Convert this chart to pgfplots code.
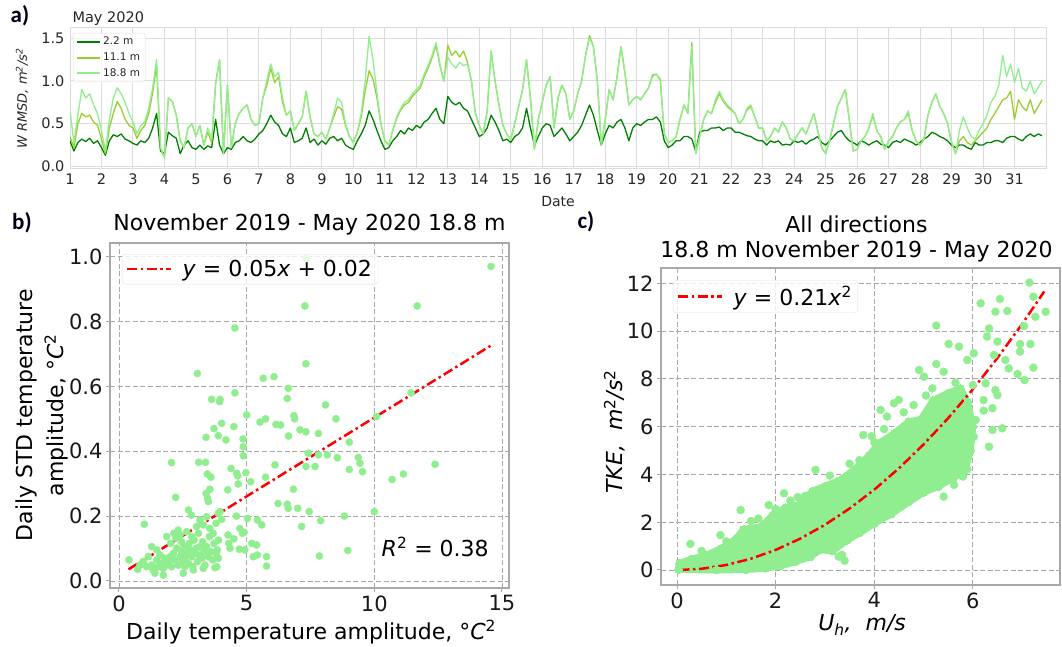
\documentclass[border=0pt]{standalone}
\usepackage{fontspec}
\setmainfont{DejaVu Sans}
\newfontfamily\labfont{Carlito}
\usepackage{pgfplots}
\pgfplotsset{compat=1.18}
\usepackage{pgfplotstable}

\definecolor{cg}{HTML}{008000}
\definecolor{cyg}{HTML}{9ACD32}
\definecolor{clg}{HTML}{90EE90}
\definecolor{gridA}{HTML}{DCDCDC}
\definecolor{frameB}{HTML}{A8A8A8}
\definecolor{gridB}{HTML}{A8A8A8}
\newcommand{\fs}[2]{\fontsize{#1}{#2}\selectfont}

\pgfplotstableread{
t a b c
1.000 0.30 0.35 0.65
1.125 0.18 0.22 0.28
1.250 0.28 0.50 0.60
1.375 0.32 0.62 0.90
1.500 0.29 0.58 0.80
1.625 0.33 0.60 0.85
1.750 0.27 0.52 0.72
1.875 0.30 0.48 0.62
2.000 0.22 0.32 0.42
2.125 0.13 0.15 0.18
2.250 0.30 0.45 0.55
2.375 0.37 0.62 0.80
2.500 0.35 0.76 0.92
2.625 0.38 0.68 0.85
2.750 0.32 0.55 0.75
2.875 0.30 0.48 0.62
3.000 0.27 0.45 0.52
3.125 0.25 0.33 0.38
3.250 0.30 0.42 0.48
3.375 0.28 0.48 0.52
3.500 0.33 0.62 0.68
3.625 0.45 0.86 0.92
3.750 0.62 1.18 1.25
3.875 0.18 0.22 0.22
4.000 0.15 0.10 0.10
4.125 0.40 0.80 0.80
4.250 0.36 0.76 0.76
4.375 0.33 0.60 0.60
4.500 0.15 0.30 0.30
4.625 0.25 0.22 0.22
4.750 0.30 0.45 0.45
4.875 0.22 0.50 0.50
5.000 0.20 0.35 0.35
5.125 0.25 0.48 0.48
5.250 0.20 0.25 0.25
5.375 0.24 0.40 0.45
5.500 0.22 0.28 0.32
5.625 0.55 0.97 0.97
5.750 0.25 1.25 1.25
5.875 0.15 0.15 0.15
6.000 0.22 0.95 0.95
6.125 0.20 0.22 0.22
6.250 0.28 0.50 0.50
6.375 0.30 0.62 0.62
6.500 0.35 0.68 0.68
6.625 0.30 0.72 0.72
6.750 0.28 0.55 0.55
6.875 0.32 0.48 0.48
7.000 0.38 0.50 0.50
7.125 0.42 0.80 0.80
7.250 0.50 0.95 1.00
7.375 0.60 1.15 1.20
7.500 0.52 0.98 1.05
7.625 0.48 1.05 1.10
7.750 0.38 0.75 0.80
7.875 0.35 0.60 0.60
8.000 0.45 0.65 0.65
8.125 0.28 0.42 0.42
8.250 0.30 0.50 0.50
8.375 0.33 0.58 0.58
8.500 0.45 0.88 0.88
8.625 0.28 0.58 0.58
8.750 0.32 0.38 0.38
8.875 0.25 0.35 0.35
9.000 0.30 0.40 0.40
9.125 0.26 0.32 0.32
9.250 0.33 0.45 0.45
9.375 0.35 0.58 0.62
9.500 0.30 0.70 0.80
9.625 0.33 0.67 0.75
9.750 0.25 0.48 0.50
9.875 0.22 0.35 0.35
10.000 0.20 0.28 0.28
10.125 0.30 0.40 0.40
10.250 0.38 0.58 0.62
10.375 0.48 0.88 1.00
10.500 0.65 1.12 1.52
10.625 0.55 1.02 1.25
10.750 0.42 0.80 0.85
10.875 0.30 0.50 0.50
11.000 0.20 0.30 0.30
11.125 0.22 0.25 0.25
11.250 0.30 0.42 0.42
11.375 0.35 0.56 0.58
11.500 0.42 0.66 0.68
11.625 0.38 0.72 0.75
11.750 0.45 0.75 0.78
11.875 0.42 0.82 0.85
12.000 0.48 0.87 0.90
12.125 0.45 0.92 0.95
12.250 0.52 1.05 1.08
12.375 0.55 1.15 1.18
12.500 0.62 1.27 1.30
12.625 0.68 1.42 1.45
12.750 0.55 1.18 1.20
12.875 0.50 1.00 1.00
13.000 0.82 1.42 1.28
13.125 0.75 1.30 1.20
13.250 0.72 1.35 1.15
13.375 0.75 1.28 1.22
13.500 0.68 1.35 1.18
13.625 0.65 1.22 1.20
13.750 0.55 1.00 1.00
13.875 0.45 0.62 0.62
14.000 0.35 0.48 0.48
14.125 0.38 0.38 0.38
14.250 0.45 0.65 0.65
14.375 0.60 1.35 1.35
14.500 0.52 1.00 1.00
14.625 0.42 0.72 0.72
14.750 0.30 0.48 0.48
14.875 0.32 0.38 0.38
15.000 0.28 0.32 0.32
15.125 0.35 0.50 0.50
15.250 0.38 0.70 0.70
15.375 0.45 0.90 0.90
15.500 0.68 1.25 1.25
15.625 0.45 0.80 0.80
15.750 0.25 0.20 0.20
15.875 0.35 0.55 0.55
16.000 0.45 0.75 0.75
16.125 0.50 0.95 0.95
16.250 0.48 1.05 1.05
16.375 0.35 0.45 0.45
16.500 0.40 0.80 0.80
16.625 0.45 0.95 0.95
16.750 0.38 0.85 0.85
16.875 0.30 0.55 0.55
17.000 0.35 0.65 0.65
17.125 0.40 0.85 0.85
17.250 0.48 1.00 1.00
17.375 0.60 1.30 1.30
17.500 0.72 1.53 1.50
17.625 0.60 1.40 1.40
17.750 0.42 1.00 1.00
17.875 0.25 0.25 0.25
18.000 0.38 0.55 0.55
18.125 0.48 0.90 0.90
18.250 0.45 0.78 0.78
18.375 0.52 1.05 1.05
18.500 0.55 1.40 1.40
18.625 0.45 1.10 1.10
18.750 0.30 0.72 0.72
18.875 0.45 0.78 0.78
19.000 0.50 0.82 0.82
19.125 0.48 0.78 0.78
19.250 0.52 0.85 0.85
19.375 0.55 0.92 0.92
19.500 0.55 1.07 1.05
19.625 0.58 1.08 1.08
19.750 0.52 1.02 1.00
19.875 0.30 0.38 0.38
20.000 0.22 0.28 0.28
20.125 0.25 0.30 0.30
20.250 0.30 0.35 0.35
20.375 0.30 0.55 0.55
20.500 0.35 0.72 0.72
20.625 0.35 0.62 0.62
20.750 0.32 1.45 1.40
20.875 0.18 0.15 0.15
21.000 0.40 0.35 0.35
21.125 0.42 0.55 0.55
21.250 0.42 0.65 0.65
21.375 0.45 0.62 0.62
21.500 0.45 0.75 0.78
21.625 0.46 0.85 0.88
21.750 0.42 0.76 0.78
21.875 0.45 0.70 0.72
22.000 0.45 0.66 0.68
22.125 0.40 0.62 0.62
22.250 0.40 0.50 0.50
22.375 0.38 0.55 0.55
22.500 0.36 0.66 0.68
22.625 0.35 0.70 0.72
22.750 0.32 0.58 0.58
22.875 0.30 0.45 0.45
23.000 0.30 0.45 0.45
23.125 0.25 0.30 0.30
23.250 0.30 0.35 0.35
23.375 0.28 0.45 0.45
23.500 0.30 0.40 0.40
23.625 0.25 0.52 0.52
23.750 0.26 0.45 0.45
23.875 0.25 0.32 0.32
24.000 0.30 0.30 0.30
24.125 0.28 0.38 0.38
24.250 0.30 0.45 0.45
24.375 0.26 0.38 0.38
24.500 0.30 0.50 0.50
24.625 0.32 0.62 0.62
24.750 0.35 0.42 0.42
24.875 0.28 0.22 0.22
25.000 0.25 0.15 0.15
25.125 0.30 0.30 0.30
25.250 0.35 0.50 0.50
25.375 0.40 0.70 0.70
25.500 0.42 0.80 0.80
25.625 0.35 0.90 0.90
25.750 0.30 0.55 0.55
25.875 0.28 0.18 0.18
26.000 0.25 0.20 0.20
26.125 0.30 0.30 0.30
26.250 0.28 0.35 0.35
26.375 0.25 0.45 0.45
26.500 0.28 0.60 0.62
26.625 0.30 0.42 0.42
26.750 0.26 0.35 0.35
26.875 0.25 0.20 0.20
27.000 0.22 0.30 0.30
27.125 0.28 0.35 0.35
27.250 0.30 0.45 0.45
27.375 0.28 0.52 0.52
27.500 0.32 0.55 0.55
27.625 0.30 0.62 0.65
27.750 0.28 0.42 0.42
27.875 0.25 0.30 0.30
28.000 0.28 0.25 0.25
28.125 0.32 0.32 0.32
28.250 0.35 0.60 0.60
28.375 0.40 0.75 0.75
28.500 0.38 0.85 0.85
28.625 0.35 0.70 0.70
28.750 0.33 0.62 0.62
28.875 0.30 0.50 0.50
29.000 0.25 0.28 0.28
29.125 0.22 0.15 0.15
29.250 0.25 0.30 0.42
29.375 0.25 0.35 0.58
29.500 0.22 0.28 0.45
29.625 0.20 0.25 0.35
29.750 0.28 0.30 0.32
29.875 0.25 0.35 0.42
30.000 0.25 0.40 0.50
30.125 0.28 0.45 0.60
30.250 0.28 0.55 0.75
30.375 0.30 0.62 0.82
30.500 0.30 0.70 0.95
30.625 0.28 0.78 1.30
30.750 0.33 0.80 1.05
30.875 0.35 0.88 1.20
31.000 0.35 0.55 0.98
31.125 0.32 0.78 1.15
31.250 0.30 0.70 0.92
31.375 0.35 0.65 0.88
31.500 0.38 0.78 1.00
31.625 0.35 0.62 0.85
31.750 0.38 0.70 0.92
31.875 0.36 0.78 1.00
}\tblA

\pgfplotstableread{
x y
14.57 0.97
7.32 0.995
7.28 0.848
11.68 0.848
4.54 0.78
7.32 0.67
3.07 0.64
5.65 0.625
6.07 0.63
11.44 0.58
4.54 0.58
3.63 0.56
3.96 0.56
3.94 0.553
6.59 0.563
6.63 0.594
8.09 0.543
5.00 0.512
10.09 0.507
6.85 0.51
6.88 0.50
8.50 0.50
5.74 0.50
5.52 0.49
6.15 0.483
6.33 0.481
4.02 0.486
3.72 0.47
4.50 0.476
7.09 0.466
7.32 0.46
7.81 0.455
6.64 0.447
3.89 0.448
3.41 0.443
4.19 0.435
4.86 0.438
4.87 0.414
9.02 0.428
4.87 0.386
7.41 0.394
7.81 0.389
8.16 0.389
8.55 0.38
9.37 0.381
9.44 0.363
3.12 0.366
3.39 0.366
2.06 0.365
6.11 0.358
12.38 0.36
7.32 0.353
7.68 0.353
4.39 0.347
9.02 0.344
9.54 0.337
11.14 0.33
3.46 0.33
3.60 0.32
4.61 0.332
4.65 0.324
4.97 0.334
5.16 0.306
5.74 0.32
4.67 0.299
10.70 0.313
6.83 0.283
4.26 0.281
3.56 0.283
3.41 0.27
2.22 0.258
3.47 0.255
3.50 0.245
6.23 0.239
6.59 0.237
6.63 0.224
7.00 0.224
7.45 0.214
10.00 0.214
2.72 0.219
2.84 0.203
3.96 0.214
4.02 0.19
5.03 0.193
5.42 0.188
7.90 0.186
8.83 0.20
5.59 0.173
7.15 0.168
0.99 0.175
4.73 0.162
4.84 0.147
3.90 0.126
4.27 0.142
4.30 0.116
4.35 0.101
4.71 0.098
4.93 0.096
5.20 0.116
5.39 0.111
5.26 0.075
5.42 0.08
5.78 0.075
5.78 0.046
7.85 0.077
8.96 0.094
0.39 0.065
0.73 0.036
3.76 0.041
0.95 0.060
1.15 0.075
1.28 0.049
1.34 0.034
1.48 0.065
1.54 0.044
1.61 0.080
1.67 0.054
1.74 0.039
1.80 0.070
1.87 0.049
1.93 0.060
2.00 0.075
2.06 0.044
2.13 0.085
2.19 0.065
2.26 0.101
2.32 0.049
2.39 0.075
2.45 0.090
2.49 0.060
2.55 0.106
2.58 0.070
2.65 0.085
2.72 0.054
2.75 0.116
2.78 0.096
2.85 0.075
2.89 0.044
2.94 0.126
2.98 0.085
3.02 0.101
3.07 0.060
3.11 0.147
3.15 0.080
3.17 0.106
3.24 0.070
3.28 0.121
3.33 0.090
3.37 0.049
3.43 0.106
3.50 0.075
3.54 0.137
3.59 0.090
3.67 0.065
3.72 0.116
3.80 0.085
3.85 0.096
3.89 0.070
2.39 0.142
2.45 0.121
2.15 0.147
2.23 0.132
2.52 0.024
1.28 0.106
1.48 0.096
1.08 0.044
0.82 0.049
1.87 0.137
2.02 0.116
2.32 0.157
2.65 0.152
2.85 0.137
3.04 0.168
3.17 0.188
3.30 0.173
3.43 0.198
3.56 0.162
3.69 0.147
3.80 0.178
3.89 0.209
3.83 0.044
3.30 0.039
2.91 0.034
2.58 0.044
1.41 0.024
1.74 0.018
4.60 0.200
4.90 0.150
4.50 0.130
}\tblB

\pgfplotstableread{
x y
7.15 12.03
7.23 11.44
7.48 10.81
7.27 10.60
6.16 11.16
6.55 11.34
6.46 10.81
6.70 10.84
6.33 10.11
7.04 10.21
5.26 10.23
5.51 9.46
5.72 9.35
6.29 9.77
6.50 9.56
6.96 9.46
7.17 9.46
6.96 9.14
6.02 9.07
6.43 9.00
6.66 8.79
5.89 8.79
6.73 8.44
7.23 8.47
6.91 8.20
7.05 7.95
4.91 8.37
5.26 8.62
5.41 8.30
5.01 8.09
5.65 7.84
5.18 7.60
6.26 7.81
6.46 7.53
6.00 7.74
6.22 7.11
6.40 6.77
6.50 7.32
6.22 6.67
6.06 6.28
6.60 5.93
6.40 5.86
6.33 5.16
6.02 5.58
5.89 4.21
5.80 3.91
5.62 3.56
5.41 3.07
4.40 6.98
4.50 7.12
4.13 6.70
4.26 6.42
3.78 5.65
2.81 4.19
1.29 2.51
1.86 2.72
2.17 3.21
0.27 1.09
0.88 1.46
3.35 0.63
3.40 0.39
3.28 0.56
2.45 3.05
2.60 3.10
3.10 3.95
3.50 4.45
3.70 4.60
4.00 5.35
4.60 6.60
4.80 6.90
5.05 7.30
1.00 1.20
1.50 2.05
1.65 2.15
0.50 0.80
2.00 2.55
2.30 2.90
4.20 5.90
3.95 5.60
}\tblC

\begin{document}
\begin{tikzpicture}[x=1pt,y=1pt]
\path[use as bounding box] (0,0) rectangle (1062,646);

% ---------------- panel a ----------------
\begin{axis}[
  at={(70pt,477pt)}, anchor=south west, scale only axis,
  width=976pt, height=141pt,
  xmin=1, xmax=32, ymin=-0.03, ymax=1.62,
  xtick={1,...,31}, ytick={0,0.5,1,1.5}, yticklabels={0.0,0.5,1.0,1.5},
  /pgf/number format/assume math mode=true,
  grid=major, major grid style={gridA, line width=1pt},
  axis line style={gridA, line width=1pt},
  major tick length=0pt,
  tick label style={font=\fs{14.5}{16}, text=black!85},
  xticklabel style={yshift=-1pt}, yticklabel style={xshift=-2pt},
  xlabel={Date}, xlabel style={font=\fs{14}{15}, text=black!85, at={(axis description cs:0.5,-0.227)}, anchor=center},
  ylabel={\itshape W RMSD, m\textsuperscript{2}/s\textsuperscript{2}},
  ylabel style={font=\fs{13}{15}, text=black!85, at={(axis description cs:-0.049,0.5)}, anchor=center, rotate=0},
  legend style={at={(0.003,0.965)}, anchor=north west, font=\fs{10.5}{12}, draw=black!12, rounded corners=2pt, fill=white, fill opacity=0.8, text opacity=1, inner xsep=3pt, inner ysep=2pt, row sep=2.5pt, cells={anchor=west}, text=black!85},
  legend image code/.code={\draw[#1, line width=2pt] (0pt,0pt) -- (23pt,0pt);},
]
\addplot[cg, line width=1.3pt, line join=round] table[x=t, y=a] {\tblA};
\addlegendentry{2.2 m}
\addplot[cyg, line width=1.3pt, line join=round] table[x=t, y=b] {\tblA};
\addlegendentry{11.1 m}
\addplot[clg, line width=1.3pt, line join=round] table[x=t, y=c] {\tblA};
\addlegendentry{18.8 m}
\end{axis}
\node[anchor=west, font=\fs{14.5}{16}, text=black!85] at (69,627) {May 2020};

% ---------------- panel b ----------------
\begin{axis}[
  at={(110pt,58pt)}, anchor=south west, scale only axis,
  width=399pt, height=345pt,
  xmin=-0.3525, xmax=15.276, ymin=-0.0216, ymax=1.0422,
  xtick={0,5,10,15}, xticklabels={0,5,10,15},
  ytick={0,0.2,0.4,0.6,0.8,1.0}, yticklabels={0.0,0.2,0.4,0.6,0.8,1.0},
  grid=major, major grid style={gridB, line width=0.9pt, dash pattern=on 5pt off 2.6pt},
  axis line style={frameB, line width=1.1pt},
  tick align=outside, major tick length=4pt, tick style={frameB, line width=1pt},
  xtick pos=bottom, ytick pos=left,
  tick label style={font=\fs{21}{23}, text=black!90},
  xticklabel style={yshift=0pt}, yticklabel style={xshift=0pt},
  title={November 2019 - May 2020 18.8 m},
  title style={font=\fs{22}{24}, at={(axis description cs:0.5,1.0377)}, anchor=center},
  xlabel={Daily temperature amplitude, °\textit{C}\textsuperscript{2}},
  xlabel style={font=\fs{22}{24}, at={(axis description cs:0.504,-0.1275)}, anchor=center},
  ylabel={Daily STD temperature\\amplitude, °\textit{C}\textsuperscript{2}},
  ylabel style={font=\fs{22}{31}, align=center, at={(axis description cs:-0.171,0.501)}, anchor=center, rotate=0},
  legend style={at={(0.03,0.968)}, anchor=north west, font=\fs{22}{24}, draw=black!12, rounded corners=3pt, fill=white, fill opacity=0.8, text opacity=1, inner xsep=4pt, inner ysep=4pt},
  legend image code/.code={\draw[#1] (0pt,0pt) -- (44pt,0pt); \path (52pt,0pt);},
]
\addplot[only marks, mark=*, mark size=3.6pt, mark options={draw=clg, fill=clg}, forget plot] table[x=x, y=y] {\tblB};
\addplot[red, line width=2.5pt, dash pattern=on 10pt off 3.5pt on 2.5pt off 3.5pt] coordinates {(0.37,0.036) (14.57,0.726)};
\addlegendentry{\textit{y} = 0.05\textit{x} + 0.02}
\node[anchor=east, font=\fs{22}{24}] at (axis cs:14.62,0.105) {\textit{R}\textsuperscript{2} = 0.38};
\end{axis}

% ---------------- panel c ----------------
\begin{axis}[
  at={(661pt,61pt)}, anchor=south west, scale only axis,
  width=399pt, height=317pt,
  xmin=-0.325, xmax=7.77, ymin=-0.628, ymax=12.64,
  xtick={0,2,4,6}, xticklabels={0,2,4,6},
  ytick={0,2,4,6,8,10,12}, yticklabels={0,2,4,6,8,10,12},
  grid=major, major grid style={gridB, line width=0.9pt, dash pattern=on 5pt off 2.6pt},
  axis line style={frameB, line width=1.1pt},
  tick align=outside, major tick length=4pt, tick style={frameB, line width=1pt},
  xtick pos=bottom, ytick pos=left,
  tick label style={font=\fs{21}{23}, text=black!90},
  xticklabel style={yshift=0pt}, yticklabel style={xshift=0pt},
  title={All directions\\18.8 m November 2019 - May 2020},
  title style={font=\fs{22}{25}, align=center, at={(axis description cs:0.49,1.074)}, anchor=center},
  xlabel={\textit{U}\textsubscript{\textit{h}}\textit{, \ m/s}},
  xlabel style={font=\fs{22}{24}, at={(axis description cs:0.504,-0.126)}, anchor=center},
  ylabel={\textit{TKE, \ m}\textsuperscript{2}\textit{/s}\textsuperscript{2}},
  ylabel style={font=\fs{22}{24}, at={(axis description cs:-0.116,0.483)}, anchor=center, rotate=0},
  legend style={at={(0.03,0.962)}, anchor=north west, font=\fs{22}{24}, draw=black!12, rounded corners=3pt, fill=white, fill opacity=0.8, text opacity=1, inner xsep=4pt, inner ysep=4pt},
  legend image code/.code={\draw[#1] (0pt,0pt) -- (44pt,0pt); \path (52pt,0pt);},
]
\addplot[fill=clg, draw=clg, line width=7pt, line join=round, mark=*, mark size=4pt, mark options={draw=clg, fill=clg, line width=0pt}, forget plot] coordinates {
(0.03,0.02) (0.05,0.28) (0.3,0.45) (0.6,0.62) (0.9,0.9) (1.2,1.3) (1.35,1.7) (1.7,1.8) (1.95,2.3) (2.2,2.6) (2.5,2.75) (2.75,3.3) (3.0,3.5) (3.3,3.75) (3.6,4.2) (3.9,4.8) (4.1,5.3) (4.4,5.7) (4.7,6.2) (4.95,6.3) (5.2,7.1) (5.5,7.4) (5.75,7.6) (5.9,7.0) (6.0,6.0) (5.95,5.0) (5.85,4.2) (5.6,3.85) (5.3,3.5) (5.0,3.25) (4.7,2.85) (4.35,2.35) (4.0,1.95) (3.7,1.55) (3.45,1.25) (3.15,0.8) (2.9,0.85) (2.7,0.55) (2.4,0.35) (2.1,0.17) (1.8,0.08) (1.4,0.02) (0.8,0.0)
} -- cycle;
\addplot[only marks, mark=*, mark size=4pt, mark options={draw=clg, fill=clg}, forget plot] table[x=x, y=y] {\tblC};
\addplot[red, line width=2.5pt, dash pattern=on 10pt off 3.5pt on 2.5pt off 3.5pt] coordinates {
(0.05,0.0005) (0.5,0.0525) (1,0.21) (1.5,0.4725) (2,0.84) (2.5,1.3125) (3,1.89) (3.5,2.5725) (4,3.36) (4.5,4.2525) (5,5.25) (5.5,6.3525) (6,7.56) (6.5,8.8725) (7,10.29) (7.45,11.655)};
\addlegendentry{\textit{y} = 0.21\textit{x}\textsuperscript{2}}
\end{axis}

% panel letters
\node[font=\labfont\bfseries\fs{23}{25}, text=black!90!blue] at (20,630) {a)};
\node[font=\labfont\bfseries\fs{23}{25}, text=black!90!blue] at (22,423) {b)};
\node[font=\labfont\bfseries\fs{23}{25}, text=black!90!blue] at (586,424) {c)};
\end{tikzpicture}
\end{document}
